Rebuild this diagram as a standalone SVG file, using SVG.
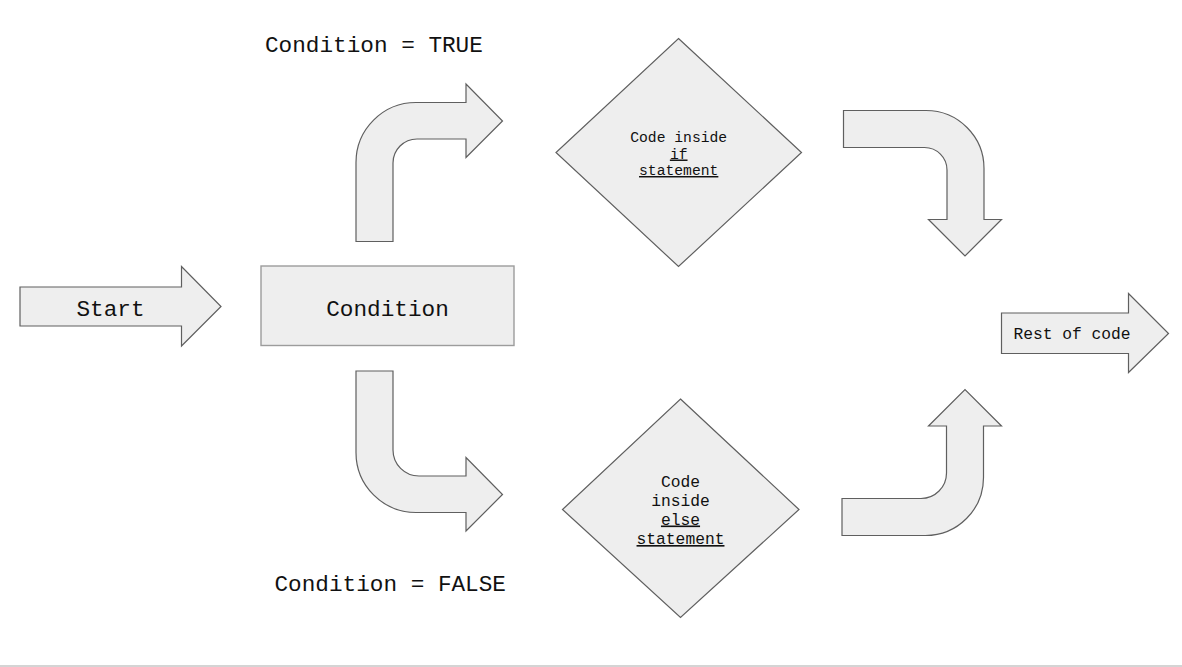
<svg xmlns="http://www.w3.org/2000/svg" width="1182" height="667" viewBox="0 0 1182 667">
<style>
  .shape { fill: #eeeeee; stroke: #5f5f5f; stroke-width: 1.2; stroke-linejoin: miter; }
  .box { fill: #eeeeee; stroke: #9c9c9c; stroke-width: 1.4; }
  text { font-family: "Liberation Mono", "Courier New", monospace; fill: #111111; }
  .big { font-size: 22.7px; }
  .mid { font-size: 16.3px; }
  .small { font-size: 14.7px; }
  .u { text-decoration: underline; }
</style>
<rect x="0" y="0" width="1182" height="667" fill="#ffffff"/>

<g id="connectors">
  <path id="arrow-true" class="shape" d="M 356 241.5 L 356 162.5 A 60 60 0 0 1 416 102.5 L 466 102.5 L 466 84 L 502.5 121 L 466 157.5 L 466 139 L 417 139 A 24 24 0 0 0 393 163 L 393 241.5 Z"/>
  <path id="arrow-false" class="shape" d="M 356 371 L 393 371 L 393 450 A 26 26 0 0 0 419 476 L 466 476 L 466 457.5 L 502.5 494.5 L 466 531 L 466 512.5 L 416 512.5 A 60 60 0 0 1 356 452.5 Z"/>
  <path id="arrow-if-out" class="shape" d="M 843.5 110.5 L 926 110.5 A 58 58 0 0 1 984 168.5 L 984 219.5 L 1001.5 219.5 L 965 256 L 928.5 219.5 L 947 219.5 L 947 170 A 22.5 22.5 0 0 0 924.5 147.5 L 843.5 147.5 Z"/>
  <path id="arrow-else-out" class="shape" d="M 842 498.5 L 921 498.5 A 25.5 25.5 0 0 0 946.5 473 L 946.5 426 L 928.5 426 L 965 389.5 L 1001.5 426 L 983.5 426 L 983.5 477.5 A 58 58 0 0 1 925.5 535.5 L 842 535.5 Z"/>
</g>

<g id="start">
  <path class="shape" d="M 20 287 L 181.5 287 L 181.5 266.5 L 221 306.5 L 181.5 346 L 181.5 326 L 20 326 Z"/>
  <text class="big" x="110.5" y="315.5" text-anchor="middle">Start</text>
</g>

<g id="condition">
  <rect class="box" x="261" y="266" width="253" height="79.5"/>
  <text class="big" x="387.5" y="315.5" text-anchor="middle">Condition</text>
</g>

<g id="label-true">
  <text class="big" x="265" y="51.5">Condition = TRUE</text>
</g>

<g id="label-false">
  <text class="big" x="274.5" y="591">Condition = FALSE</text>
</g>

<g id="if-block">
  <polygon class="shape" points="678.5,38.5 801.5,152.5 678.5,266.5 556,152.5"/>
  <text class="small" x="678.7" y="141.5" text-anchor="middle">Code inside</text>
  <text class="small u" x="678.7" y="158.5" text-anchor="middle">if</text>
  <text class="small u" x="678.7" y="175" text-anchor="middle">statement</text>
</g>

<g id="else-block">
  <polygon class="shape" points="680.5,399 799,509.5 680.5,617.5 562.5,509.5"/>
  <text class="mid" x="680.5" y="486.5" text-anchor="middle">Code</text>
  <text class="mid" x="680.5" y="505.5" text-anchor="middle">inside</text>
  <text class="mid u" x="680.5" y="524.5" text-anchor="middle">else</text>
  <text class="mid u" x="680.5" y="544" text-anchor="middle">statement</text>
</g>

<g id="rest-of-code">
  <path class="shape" d="M 1001.5 313 L 1128.5 313 L 1128.5 293.5 L 1168.5 333.5 L 1128.5 372.5 L 1128.5 353.5 L 1001.5 353.5 Z"/>
  <text class="mid" x="1072" y="339" text-anchor="middle">Rest of code</text>
</g>

<line x1="0" y1="666" x2="1182" y2="666" stroke="#c6c6c6" stroke-width="1.5"/>
</svg>
